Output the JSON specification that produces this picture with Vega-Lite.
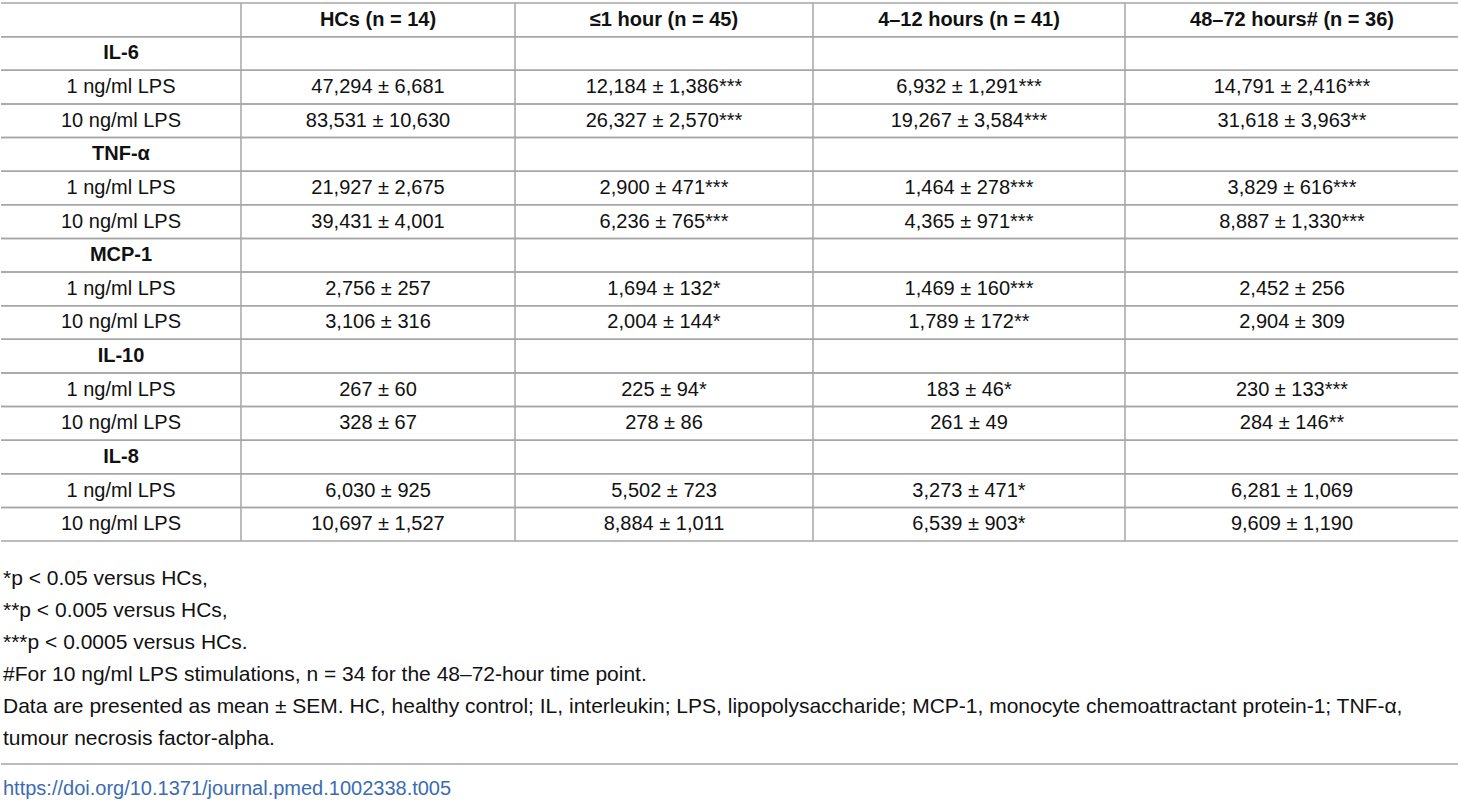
{
  "$schema": "https://vega.github.io/schema/vega-lite/v6.json",
  "padding": {"top": 2, "left": 0, "right": 0, "bottom": 0},
  "background": "white",
  "datasets": {
    "cells": [
      {"row": 1, "col": 0, "kind": "", "label": ""},
      {"row": 1, "col": 1, "kind": "head", "label": "HCs (n = 14)"},
      {"row": 1, "col": 2, "kind": "head", "label": "≤1 hour (n = 45)"},
      {"row": 1, "col": 3, "kind": "head", "label": "4–12 hours (n = 41)"},
      {"row": 1, "col": 4, "kind": "head", "label": "48–72 hours# (n = 36)"},
      {"row": 2, "col": 0, "kind": "group", "label": "IL-6"},
      {"row": 2, "col": 1, "kind": "", "label": ""},
      {"row": 2, "col": 2, "kind": "", "label": ""},
      {"row": 2, "col": 3, "kind": "", "label": ""},
      {"row": 2, "col": 4, "kind": "", "label": ""},
      {"row": 3, "col": 0, "kind": "value", "label": "1 ng/ml LPS"},
      {"row": 3, "col": 1, "kind": "value", "label": "47,294 ± 6,681"},
      {"row": 3, "col": 2, "kind": "value", "label": "12,184 ± 1,386***"},
      {"row": 3, "col": 3, "kind": "value", "label": "6,932 ± 1,291***"},
      {"row": 3, "col": 4, "kind": "value", "label": "14,791 ± 2,416***"},
      {"row": 4, "col": 0, "kind": "value", "label": "10 ng/ml LPS"},
      {"row": 4, "col": 1, "kind": "value", "label": "83,531 ± 10,630"},
      {"row": 4, "col": 2, "kind": "value", "label": "26,327 ± 2,570***"},
      {"row": 4, "col": 3, "kind": "value", "label": "19,267 ± 3,584***"},
      {"row": 4, "col": 4, "kind": "value", "label": "31,618 ± 3,963**"},
      {"row": 5, "col": 0, "kind": "group", "label": "TNF-α"},
      {"row": 5, "col": 1, "kind": "", "label": ""},
      {"row": 5, "col": 2, "kind": "", "label": ""},
      {"row": 5, "col": 3, "kind": "", "label": ""},
      {"row": 5, "col": 4, "kind": "", "label": ""},
      {"row": 6, "col": 0, "kind": "value", "label": "1 ng/ml LPS"},
      {"row": 6, "col": 1, "kind": "value", "label": "21,927 ± 2,675"},
      {"row": 6, "col": 2, "kind": "value", "label": "2,900 ± 471***"},
      {"row": 6, "col": 3, "kind": "value", "label": "1,464 ± 278***"},
      {"row": 6, "col": 4, "kind": "value", "label": "3,829 ± 616***"},
      {"row": 7, "col": 0, "kind": "value", "label": "10 ng/ml LPS"},
      {"row": 7, "col": 1, "kind": "value", "label": "39,431 ± 4,001"},
      {"row": 7, "col": 2, "kind": "value", "label": "6,236 ± 765***"},
      {"row": 7, "col": 3, "kind": "value", "label": "4,365 ± 971***"},
      {"row": 7, "col": 4, "kind": "value", "label": "8,887 ± 1,330***"},
      {"row": 8, "col": 0, "kind": "group", "label": "MCP-1"},
      {"row": 8, "col": 1, "kind": "", "label": ""},
      {"row": 8, "col": 2, "kind": "", "label": ""},
      {"row": 8, "col": 3, "kind": "", "label": ""},
      {"row": 8, "col": 4, "kind": "", "label": ""},
      {"row": 9, "col": 0, "kind": "value", "label": "1 ng/ml LPS"},
      {"row": 9, "col": 1, "kind": "value", "label": "2,756 ± 257"},
      {"row": 9, "col": 2, "kind": "value", "label": "1,694 ± 132*"},
      {"row": 9, "col": 3, "kind": "value", "label": "1,469 ± 160***"},
      {"row": 9, "col": 4, "kind": "value", "label": "2,452 ± 256"},
      {"row": 10, "col": 0, "kind": "value", "label": "10 ng/ml LPS"},
      {"row": 10, "col": 1, "kind": "value", "label": "3,106 ± 316"},
      {"row": 10, "col": 2, "kind": "value", "label": "2,004 ± 144*"},
      {"row": 10, "col": 3, "kind": "value", "label": "1,789 ± 172**"},
      {"row": 10, "col": 4, "kind": "value", "label": "2,904 ± 309"},
      {"row": 11, "col": 0, "kind": "group", "label": "IL-10"},
      {"row": 11, "col": 1, "kind": "", "label": ""},
      {"row": 11, "col": 2, "kind": "", "label": ""},
      {"row": 11, "col": 3, "kind": "", "label": ""},
      {"row": 11, "col": 4, "kind": "", "label": ""},
      {"row": 12, "col": 0, "kind": "value", "label": "1 ng/ml LPS"},
      {"row": 12, "col": 1, "kind": "value", "label": "267 ± 60"},
      {"row": 12, "col": 2, "kind": "value", "label": "225 ± 94*"},
      {"row": 12, "col": 3, "kind": "value", "label": "183 ± 46*"},
      {"row": 12, "col": 4, "kind": "value", "label": "230 ± 133***"},
      {"row": 13, "col": 0, "kind": "value", "label": "10 ng/ml LPS"},
      {"row": 13, "col": 1, "kind": "value", "label": "328 ± 67"},
      {"row": 13, "col": 2, "kind": "value", "label": "278 ± 86"},
      {"row": 13, "col": 3, "kind": "value", "label": "261 ± 49"},
      {"row": 13, "col": 4, "kind": "value", "label": "284 ± 146**"},
      {"row": 14, "col": 0, "kind": "group", "label": "IL-8"},
      {"row": 14, "col": 1, "kind": "", "label": ""},
      {"row": 14, "col": 2, "kind": "", "label": ""},
      {"row": 14, "col": 3, "kind": "", "label": ""},
      {"row": 14, "col": 4, "kind": "", "label": ""},
      {"row": 15, "col": 0, "kind": "value", "label": "1 ng/ml LPS"},
      {"row": 15, "col": 1, "kind": "value", "label": "6,030 ± 925"},
      {"row": 15, "col": 2, "kind": "value", "label": "5,502 ± 723"},
      {"row": 15, "col": 3, "kind": "value", "label": "3,273 ± 471*"},
      {"row": 15, "col": 4, "kind": "value", "label": "6,281 ± 1,069"},
      {"row": 16, "col": 0, "kind": "value", "label": "10 ng/ml LPS"},
      {"row": 16, "col": 1, "kind": "value", "label": "10,697 ± 1,527"},
      {"row": 16, "col": 2, "kind": "value", "label": "8,884 ± 1,011"},
      {"row": 16, "col": 3, "kind": "value", "label": "6,539 ± 903*"},
      {"row": 16, "col": 4, "kind": "value", "label": "9,609 ± 1,190"}
    ],
    "notes": [
      {"line": 1, "note": "*p < 0.05 versus HCs,"},
      {"line": 2, "note": "**p < 0.005 versus HCs,"},
      {"line": 3, "note": "***p < 0.0005 versus HCs."},
      {"line": 4, "note": "#For 10 ng/ml LPS stimulations, n = 34 for the 48–72-hour time point."},
      {"line": 5, "note": "Data are presented as mean ± SEM. HC, healthy control; IL, interleukin; LPS, lipopolysaccharide; MCP-1, monocyte chemoattractant protein-1; TNF-α,"},
      {"line": 6, "note": "tumour necrosis factor-alpha."}
    ],
    "doi": [
      {"link": "https://doi.org/10.1371/journal.pmed.1002338.t005"}
    ]
  },
  "vconcat": [
    {
      "hconcat": [
        {
          "width": 240, "height": 538,
          "data": {"name": "cells"},
          "transform": [{"filter": "datum.col == 0"}],
          "layer": [
            {"mark": {"type": "rule", "color": "#a6a6a6", "strokeWidth": 1.5},
             "encoding": {"y": {"field": "row", "type": "ordinal", "bandPosition": 0, "scale": {"type": "band", "paddingInner": 0, "paddingOuter": 0}, "axis": null}}},
            {"mark": {"type": "rule", "color": "#a6a6a6", "strokeWidth": 1.5},
             "encoding": {"y": {"field": "row", "type": "ordinal", "bandPosition": 1, "axis": null}}},
            {"transform": [{"filter": "datum.kind == 'value'"}],
             "mark": {"type": "text", "font": "Liberation Sans", "fontSize": 20, "color": "#111111", "baseline": "middle"},
             "encoding": {"y": {"field": "row", "type": "ordinal", "axis": null}, "text": {"field": "label"}}},
            {"transform": [{"filter": "datum.kind == 'head' || datum.kind == 'group'"}],
             "mark": {"type": "text", "font": "Liberation Sans", "fontSize": 20, "fontWeight": "bold", "color": "#111111", "baseline": "middle"},
             "encoding": {"y": {"field": "row", "type": "ordinal", "axis": null}, "text": {"field": "label"}}}
          ]
        },
        {
          "width": 274, "height": 538,
          "data": {"name": "cells"},
          "transform": [{"filter": "datum.col == 1"}],
          "layer": [
            {"mark": {"type": "rule", "color": "#a6a6a6", "strokeWidth": 1.5},
             "encoding": {"y": {"field": "row", "type": "ordinal", "bandPosition": 0, "scale": {"type": "band", "paddingInner": 0, "paddingOuter": 0}, "axis": null}}},
            {"mark": {"type": "rule", "color": "#a6a6a6", "strokeWidth": 1.5},
             "encoding": {"y": {"field": "row", "type": "ordinal", "bandPosition": 1, "axis": null}}},
            {"transform": [{"filter": "datum.row == 1"}],
             "mark": {"type": "rule", "color": "#a6a6a6", "strokeWidth": 1.5},
             "encoding": {"x": {"value": 0}}},
            {"transform": [{"filter": "datum.kind == 'value'"}],
             "mark": {"type": "text", "font": "Liberation Sans", "fontSize": 20, "color": "#111111", "baseline": "middle"},
             "encoding": {"y": {"field": "row", "type": "ordinal", "axis": null}, "text": {"field": "label"}}},
            {"transform": [{"filter": "datum.kind == 'head' || datum.kind == 'group'"}],
             "mark": {"type": "text", "font": "Liberation Sans", "fontSize": 20, "fontWeight": "bold", "color": "#111111", "baseline": "middle"},
             "encoding": {"y": {"field": "row", "type": "ordinal", "axis": null}, "text": {"field": "label"}}}
          ]
        },
        {
          "width": 298, "height": 538,
          "data": {"name": "cells"},
          "transform": [{"filter": "datum.col == 2"}],
          "layer": [
            {"mark": {"type": "rule", "color": "#a6a6a6", "strokeWidth": 1.5},
             "encoding": {"y": {"field": "row", "type": "ordinal", "bandPosition": 0, "scale": {"type": "band", "paddingInner": 0, "paddingOuter": 0}, "axis": null}}},
            {"mark": {"type": "rule", "color": "#a6a6a6", "strokeWidth": 1.5},
             "encoding": {"y": {"field": "row", "type": "ordinal", "bandPosition": 1, "axis": null}}},
            {"transform": [{"filter": "datum.row == 1"}],
             "mark": {"type": "rule", "color": "#a6a6a6", "strokeWidth": 1.5},
             "encoding": {"x": {"value": 0}}},
            {"transform": [{"filter": "datum.kind == 'value'"}],
             "mark": {"type": "text", "font": "Liberation Sans", "fontSize": 20, "color": "#111111", "baseline": "middle"},
             "encoding": {"y": {"field": "row", "type": "ordinal", "axis": null}, "text": {"field": "label"}}},
            {"transform": [{"filter": "datum.kind == 'head' || datum.kind == 'group'"}],
             "mark": {"type": "text", "font": "Liberation Sans", "fontSize": 20, "fontWeight": "bold", "color": "#111111", "baseline": "middle"},
             "encoding": {"y": {"field": "row", "type": "ordinal", "axis": null}, "text": {"field": "label"}}}
          ]
        },
        {
          "width": 312, "height": 538,
          "data": {"name": "cells"},
          "transform": [{"filter": "datum.col == 3"}],
          "layer": [
            {"mark": {"type": "rule", "color": "#a6a6a6", "strokeWidth": 1.5},
             "encoding": {"y": {"field": "row", "type": "ordinal", "bandPosition": 0, "scale": {"type": "band", "paddingInner": 0, "paddingOuter": 0}, "axis": null}}},
            {"mark": {"type": "rule", "color": "#a6a6a6", "strokeWidth": 1.5},
             "encoding": {"y": {"field": "row", "type": "ordinal", "bandPosition": 1, "axis": null}}},
            {"transform": [{"filter": "datum.row == 1"}],
             "mark": {"type": "rule", "color": "#a6a6a6", "strokeWidth": 1.5},
             "encoding": {"x": {"value": 0}}},
            {"transform": [{"filter": "datum.kind == 'value'"}],
             "mark": {"type": "text", "font": "Liberation Sans", "fontSize": 20, "color": "#111111", "baseline": "middle"},
             "encoding": {"y": {"field": "row", "type": "ordinal", "axis": null}, "text": {"field": "label"}}},
            {"transform": [{"filter": "datum.kind == 'head' || datum.kind == 'group'"}],
             "mark": {"type": "text", "font": "Liberation Sans", "fontSize": 20, "fontWeight": "bold", "color": "#111111", "baseline": "middle"},
             "encoding": {"y": {"field": "row", "type": "ordinal", "axis": null}, "text": {"field": "label"}}}
          ]
        },
        {
          "width": 334, "height": 538,
          "data": {"name": "cells"},
          "transform": [{"filter": "datum.col == 4"}],
          "layer": [
            {"mark": {"type": "rule", "color": "#a6a6a6", "strokeWidth": 1.5},
             "encoding": {"y": {"field": "row", "type": "ordinal", "bandPosition": 0, "scale": {"type": "band", "paddingInner": 0, "paddingOuter": 0}, "axis": null}}},
            {"mark": {"type": "rule", "color": "#a6a6a6", "strokeWidth": 1.5},
             "encoding": {"y": {"field": "row", "type": "ordinal", "bandPosition": 1, "axis": null}}},
            {"transform": [{"filter": "datum.row == 1"}],
             "mark": {"type": "rule", "color": "#a6a6a6", "strokeWidth": 1.5},
             "encoding": {"x": {"value": 0}}},
            {"transform": [{"filter": "datum.kind == 'value'"}],
             "mark": {"type": "text", "font": "Liberation Sans", "fontSize": 20, "color": "#111111", "baseline": "middle"},
             "encoding": {"y": {"field": "row", "type": "ordinal", "axis": null}, "text": {"field": "label"}}},
            {"transform": [{"filter": "datum.kind == 'head' || datum.kind == 'group'"}],
             "mark": {"type": "text", "font": "Liberation Sans", "fontSize": 20, "fontWeight": "bold", "color": "#111111", "baseline": "middle"},
             "encoding": {"y": {"field": "row", "type": "ordinal", "axis": null}, "text": {"field": "label"}}}
          ]
        }
      ],
      "spacing": 0,
      "bounds": "flush"
    },
    {
      "width": 1458, "height": 221,
      "data": {"name": "notes"},
      "mark": {"type": "text", "align": "left", "baseline": "middle", "font": "Liberation Sans", "fontSize": 21, "color": "#111111"},
      "encoding": {
        "x": {"value": 2},
        "y": {"field": "line", "type": "ordinal", "scale": {"type": "band", "paddingInner": 0, "paddingOuter": 0.453, "align": 0.724}, "axis": null},
        "text": {"field": "note"}
      }
    },
    {
      "width": 1458, "height": 39,
      "data": {"name": "doi"},
      "layer": [
        {"mark": {"type": "rule", "color": "#a6a6a6", "strokeWidth": 1.5},
         "encoding": {"y": {"value": 0}}},
        {"mark": {"type": "text", "align": "left", "baseline": "middle", "dy": 5, "font": "Liberation Sans", "fontSize": 20, "color": "#3b6cb3"},
         "encoding": {"x": {"value": 2}, "text": {"field": "link"}}}
      ]
    }
  ],
  "spacing": 0,
  "config": {"view": {"stroke": null}}
}
